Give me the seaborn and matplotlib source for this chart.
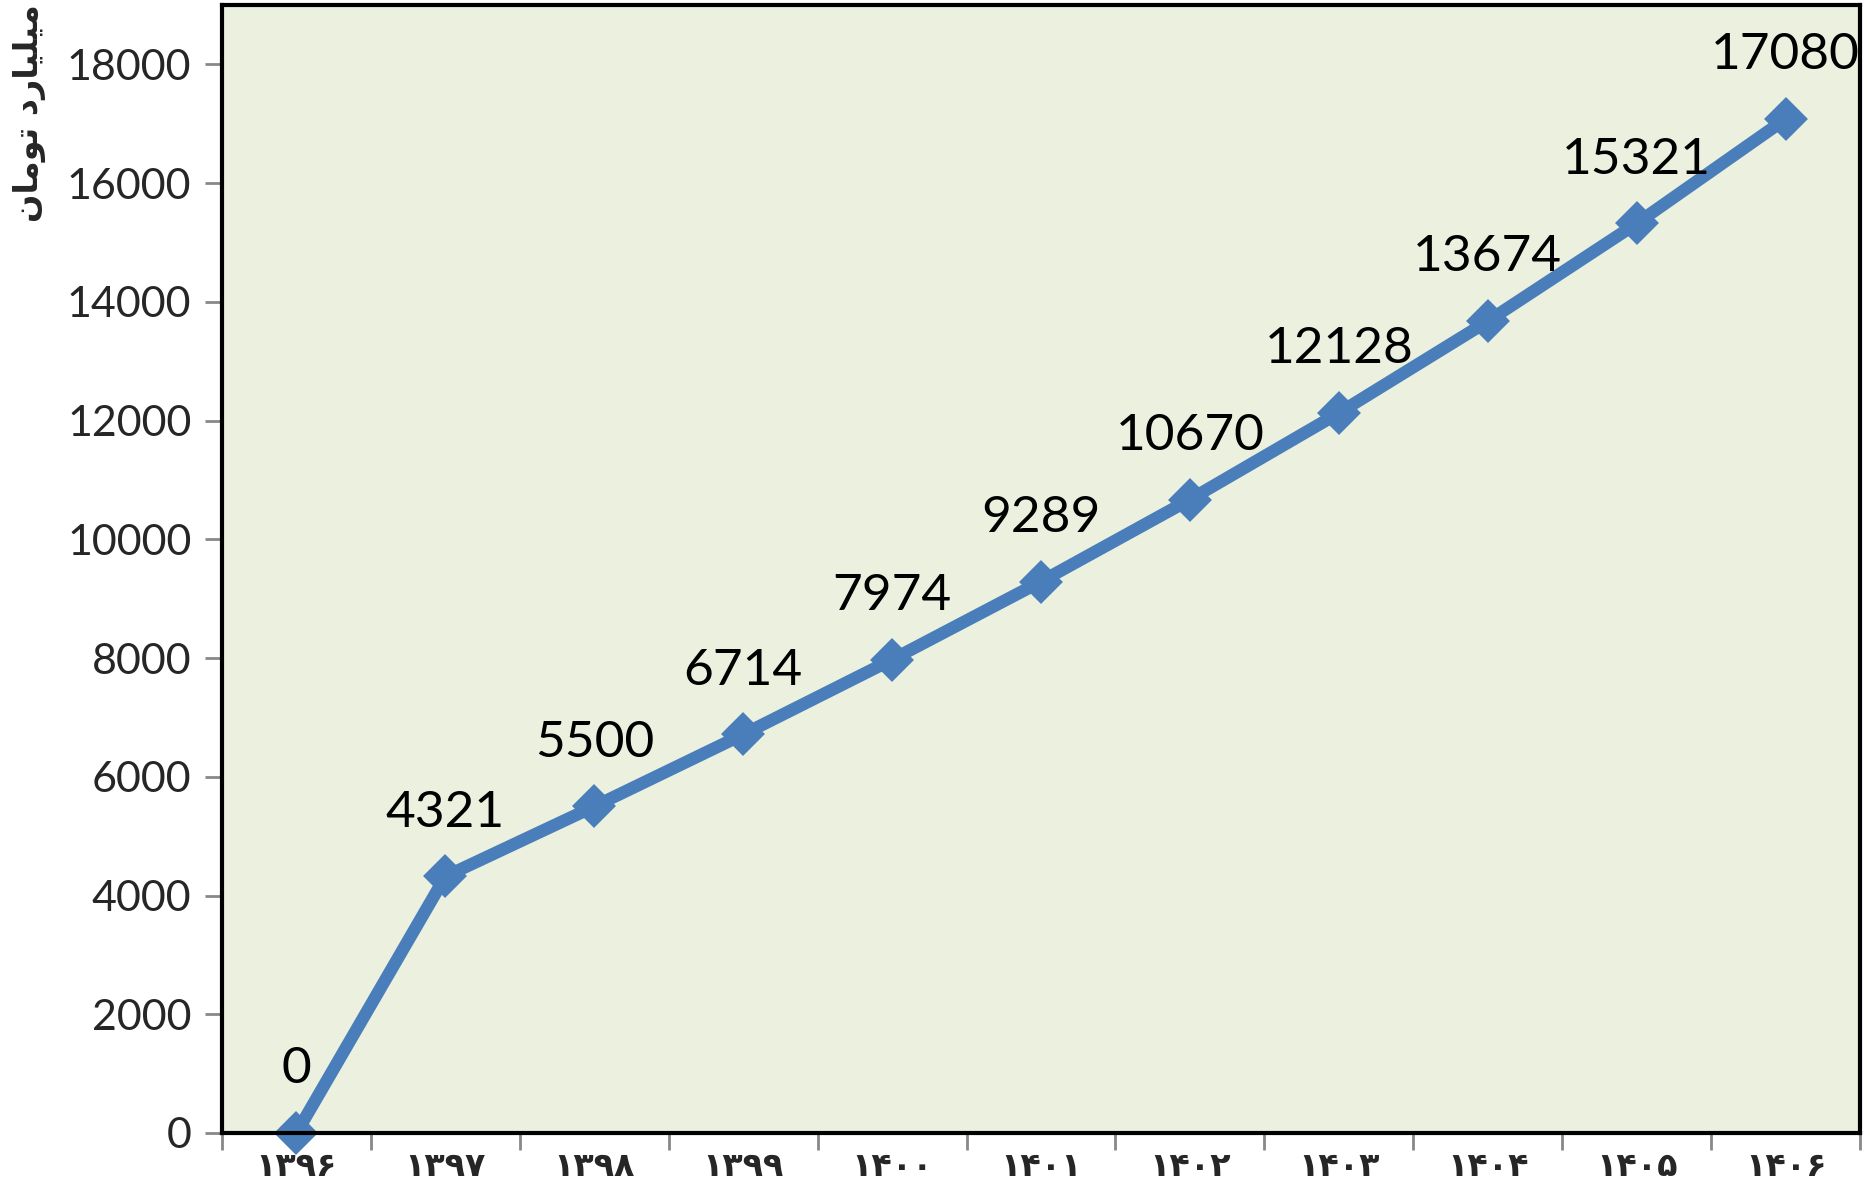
import numpy as np
import pandas as pd
import seaborn as sns
import matplotlib.pyplot as plt

# years (Persian digits) and values in billion toman
years = ["۱۳۹۶", "۱۳۹۷", "۱۳۹۸", "۱۳۹۹", "۱۴۰۰", "۱۴۰۱",
         "۱۴۰۲", "۱۴۰۳", "۱۴۰۴", "۱۴۰۵", "۱۴۰۶"]
values = [0, 4321, 5500, 6714, 7974, 9289, 10670, 12128, 13674, 15321, 17080]
y_ticks = [0, 2000, 4000, 6000, 8000, 10000, 12000, 14000, 16000, 18000]

# "میلیارد تومان" written with presentation forms in visual order
y_label = "\uFEE5\uFE8E\uFEE3\uFEEE\uFE97 \uFEA9\uFEAD\uFE8E\uFEF4\uFEE0\uFEF4\uFEE3"

df = pd.DataFrame({"year": years, "value": values})

sns.set_style("white")
plt.rcParams['font.family'] = ['Lato', 'DejaVu Sans']

fig = plt.figure(figsize=(18.7, 11.92), dpi=100)
ax = fig.add_axes([0.1187, 0.0495, 0.8760, 0.9463])
ax.set_facecolor("#EBF0DF")

line_color = "#4A7EBB"
sns.lineplot(data=df, x="year", y="value", ax=ax, color=line_color,
             linewidth=9, marker="D", markersize=19, markeredgewidth=3,
             markeredgecolor=line_color)
for l in ax.lines:
    l.set_solid_joinstyle("round")
    l.set_solid_capstyle("round")
    l.set_clip_on(False)

# data labels
for i, v in enumerate(values):
    ax.annotate(str(v), (i, v), xytext=(0, 46), textcoords="offset points",
                ha="center", va="center", fontsize=37, color="black",
                annotation_clip=False)

ax.set_xlim(-0.5, len(years) - 0.5)
ax.set_ylim(0, 19000)
ax.set_yticks(y_ticks)
ax.set_yticklabels([str(t) for t in y_ticks])
ax.set_xticks(range(len(years)))
ax.set_xticklabels(years, fontsize=24, fontweight="bold", family=["DejaVu Sans"])
ax.set_xticks(np.arange(-0.5, len(years), 1), minor=True)

ax.tick_params(axis="y", which="major", length=12, width=2, color="#888888",
               labelsize=31, pad=10, left=True)
ax.tick_params(axis="x", which="major", length=0, pad=12)
ax.tick_params(axis="x", which="minor", length=12, width=2, color="#888888",
               bottom=True)

for side in ["left", "right", "top", "bottom"]:
    ax.spines[side].set_visible(True)
    ax.spines[side].set_color("black")
    ax.spines[side].set_linewidth(3)

ax.set_xlabel("")
ax.set_ylabel("")
fig.text(0.0155, 0.905, y_label, rotation=90, ha="center", va="center",
         fontsize=24, fontweight="bold", family=["DejaVu Sans"])

fig.savefig("out.png", dpi=100)
